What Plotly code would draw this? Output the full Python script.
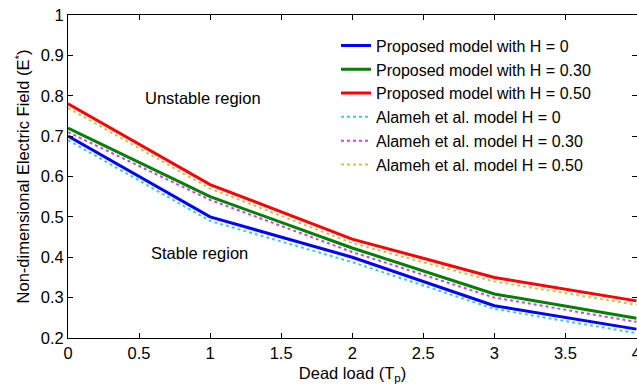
import plotly.graph_objects as go

dead_load = [0, 1, 2, 3, 4]
proposed_h0 = [0.70, 0.50, 0.40, 0.28, 0.222]
proposed_h30 = [0.72, 0.55, 0.423, 0.309, 0.249]
proposed_h50 = [0.78, 0.58, 0.445, 0.35, 0.292]
alameh_h0 = [0.69, 0.49, 0.388, 0.272, 0.212]
alameh_h30 = [0.71, 0.542, 0.413, 0.300, 0.240]
alameh_h50 = [0.77, 0.57, 0.435, 0.340, 0.282]

names = [
    "Proposed model with H = 0",
    "Proposed model with H = 0.30",
    "Proposed model with H = 0.50",
    "Alameh et al. model H = 0",
    "Alameh et al. model H = 0.30",
    "Alameh et al. model H = 0.50",
]
series = [proposed_h0, proposed_h30, proposed_h50, alameh_h0, alameh_h30, alameh_h50]
colors = ["#0000ff", "#008000", "#ff0000", "#40cccc", "#cc44dd", "#c8c850"]
dashes = ["solid", "solid", "solid", "dot", "dot", "dot"]
widths = [3, 3, 3, 2, 2, 2]

fig = go.Figure()
for n, s, c, d, w in zip(names, series, colors, dashes, widths):
    fig.add_trace(go.Scatter(x=dead_load, y=s, mode="lines", name=n,
                             line=dict(color=c, dash=d, width=w)))

fig.add_annotation(x=0.947, y=0.794, text="Unstable region", showarrow=False,
                   font=dict(size=16.5, color="black"))
fig.add_annotation(x=0.926, y=0.41, text="Stable region", showarrow=False,
                   font=dict(size=16.5, color="black"))

axis_common = dict(showline=True, linecolor="black", linewidth=1, mirror="ticks",
                   ticks="inside", ticklen=5, tickcolor="black", showgrid=False,
                   zeroline=False, tickfont=dict(size=16.5, color="black"),
                   automargin=False)

fig.update_layout(
    width=637, height=388,
    margin=dict(l=68, r=0, t=15, b=50, autoexpand=False),
    paper_bgcolor="white", plot_bgcolor="white",
    font=dict(family="Liberation Sans, Arial, sans-serif", size=16.5, color="black"),
    xaxis=dict(range=[0, 4.004], tick0=0, dtick=0.5, ticklabeloverflow="allow",
               title=dict(text="Dead load (T<sub>p</sub>)", font=dict(size=16.5), standoff=6),
               **axis_common),
    yaxis=dict(range=[0.2, 1.0], tick0=0.2, dtick=0.1,
               title=dict(text="Non-dimensional Electric Field (E<sup>*</sup>)", font=dict(size=16.5), standoff=6),
               **axis_common),
    legend=dict(x=0.471, y=0.958, xanchor="left", yanchor="top",
                bgcolor="rgba(255,255,255,0)", font=dict(size=16),
                tracegroupgap=0),
    showlegend=True,
)

fig.write_html("out.html")
